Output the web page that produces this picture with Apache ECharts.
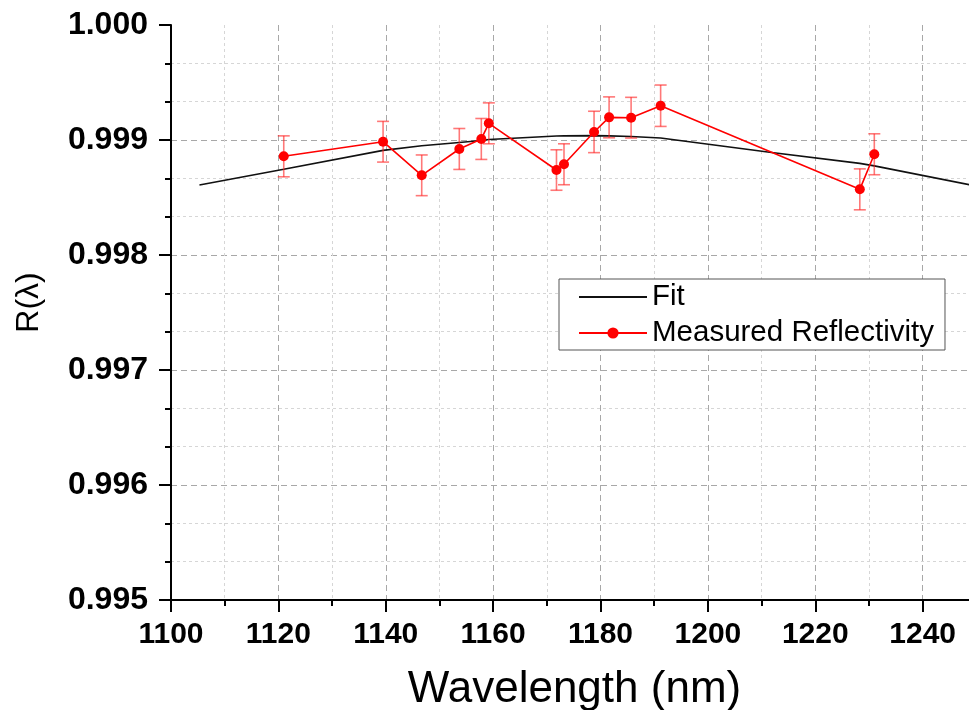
<!DOCTYPE html>
<html>
<head>
<meta charset="utf-8">
<script src="https://cdn.jsdelivr.net/npm/echarts@6/dist/echarts.min.js"></script>
<style>html,body{margin:0;padding:0;background:#fff;}#c{width:969px;height:710px;}</style>
</head>
<body>
<div id="c"></div>
<script>
// Measured reflectivity
var waveX = [1121.0, 1139.5, 1146.7, 1153.7, 1157.8, 1159.2, 1171.8, 1173.2, 1178.8, 1181.6, 1185.7, 1191.2, 1228.3, 1231.0];
var measY = [0.998858, 0.998985, 0.998693, 0.998922, 0.999009, 0.999145, 0.998739, 0.998789, 0.999070, 0.999197, 0.999194, 0.999298, 0.998571, 0.998876];
var measErr = [0.000178, 0.000177, 0.000177, 0.000178, 0.000178, 0.000178, 0.000176, 0.000178, 0.000180, 0.000178, 0.000177, 0.000180, 0.000178, 0.000178];
// Fit curve
var fitX = [1105.3, 1121.0, 1139.5, 1146.7, 1153.7, 1157.8, 1159.2, 1171.8, 1173.2, 1178.8, 1181.6, 1185.7, 1191.2, 1211.5, 1228.3, 1231.0, 1249.0];
var fitY = [0.998609, 0.998745, 0.998910, 0.998950, 0.998978, 0.998995, 0.999005, 0.999035, 0.999036, 0.999038, 0.999036, 0.999030, 0.999017, 0.998893, 0.998797, 0.998775, 0.998609];
// Axis settings
var xMin = 1100, xMax = 1260, xStep = 20;
var yMin = 0.995, yMax = 1.000, yStep = 0.001;

var seriesNames = ['Fit', 'Measured Reflectivity'];

var chart = echarts.init(document.getElementById('c'), null, {renderer: 'canvas'});

var measData = waveX.map(function (x, i) { return [x, measY[i]]; });
var fitData = fitX.map(function (x, i) { return [x, fitY[i]]; });
var errData = waveX.map(function (x, i) { return [x, measY[i] - measErr[i], measY[i] + measErr[i]]; });

var FONT = '"Liberation Sans", Arial, Helvetica, sans-serif';

var option = {
  backgroundColor: '#ffffff',
  animation: false,
  grid: { left: 171, top: 25, height: 575, width: 859, containLabel: false, outerBoundsMode: 'none' },
  legend: {
    data: [
      { name: seriesNames[0], itemStyle: { opacity: 0 } },
      { name: seriesNames[1] }
    ],
    orient: 'vertical',
    left: 559,
    top: 279,
    padding: [3, 11, 2, 19],
    itemGap: 6,
    itemWidth: 68,
    itemHeight: 14,
    align: 'left',
    borderColor: '#555555',
    borderWidth: 1,
    backgroundColor: '#ffffff',
    textStyle: { fontFamily: FONT, fontSize: 29.5, color: '#000' }
  },
  xAxis: {
    type: 'value',
    min: xMin, max: xMax, interval: xStep,
    name: 'Wavelength (nm)',
    nameLocation: 'middle',
    nameGap: 68,
    nameTextStyle: { fontFamily: FONT, fontSize: 44, color: '#000', padding: [0, 52, 0, 0] },
    axisLine: { show: true, onZero: false, lineStyle: { color: '#000', width: 2 } },
    axisTick: { show: true, inside: false, length: 12, lineStyle: { color: '#000', width: 2 } },
    minorTick: { show: true, splitNumber: 2, length: 6, lineStyle: { color: '#000', width: 2 } },
    axisLabel: {
      margin: 20, fontFamily: FONT, fontSize: 30, fontWeight: 'bold', color: '#000',
      showMaxLabel: false,
      formatter: function (v) { return String(Math.round(v)); }
    },
    splitLine: { show: true, lineStyle: { color: '#a8a8a8', width: 1, type: [6, 4] } },
    minorSplitLine: { show: true, lineStyle: { color: '#d6d6d6', width: 1, type: [3, 3] } }
  },
  yAxis: {
    type: 'value',
    min: yMin, max: yMax, interval: yStep,
    name: 'R(λ)',
    nameLocation: 'middle',
    nameGap: 126,
    nameRotate: 90,
    nameTextStyle: { fontFamily: FONT, fontSize: 32, color: '#000', padding: [0, 0, 0, 20] },
    axisLine: { show: true, onZero: false, lineStyle: { color: '#000', width: 2 } },
    axisTick: { show: true, inside: false, length: 12, lineStyle: { color: '#000', width: 2 } },
    minorTick: { show: true, splitNumber: 3, length: 6, lineStyle: { color: '#000', width: 2 } },
    axisLabel: {
      margin: 23, fontFamily: FONT, fontSize: 32, fontWeight: 'bold', color: '#000',
      formatter: function (v) { return v.toFixed(3); }
    },
    splitLine: { show: true, showMaxLine: false, lineStyle: { color: '#a8a8a8', width: 1, type: [6, 4] } },
    minorSplitLine: { show: true, lineStyle: { color: '#d6d6d6', width: 1, type: [3, 3] } }
  },
  series: [
    {
      name: seriesNames[0],
      type: 'line',
      data: fitData,
      showSymbol: false,
      symbol: 'none',
      lineStyle: { color: '#111111', width: 1.6 },
      itemStyle: { color: '#111111' },
      z: 3
    },
    {
      name: 'errorbars',
      type: 'custom',
      data: errData,
      z: 4,
      silent: true,
      renderItem: function (params, api) {
        var x = api.value(0), lo = api.value(1), hi = api.value(2);
        var pLo = api.coord([x, lo]);
        var pHi = api.coord([x, hi]);
        var w = 6;
        var st = { stroke: 'rgba(255,30,30,0.6)', lineWidth: 1.6, fill: null };
        return {
          type: 'group',
          children: [
            { type: 'line', shape: { x1: pHi[0] - w, y1: pHi[1], x2: pHi[0] + w, y2: pHi[1] }, style: st },
            { type: 'line', shape: { x1: pHi[0], y1: pHi[1], x2: pLo[0], y2: pLo[1] }, style: st },
            { type: 'line', shape: { x1: pLo[0] - w, y1: pLo[1], x2: pLo[0] + w, y2: pLo[1] }, style: st }
          ]
        };
      },
      encode: { x: 0, y: [1, 2] }
    },
    {
      name: seriesNames[1],
      type: 'line',
      data: measData,
      symbol: 'circle',
      symbolSize: 10,
      showSymbol: true,
      lineStyle: { color: '#ff0000', width: 1.6 },
      itemStyle: { color: '#ff0000' },
      z: 5
    }
  ]
};

chart.setOption(option);
</script>
</body>
</html>
